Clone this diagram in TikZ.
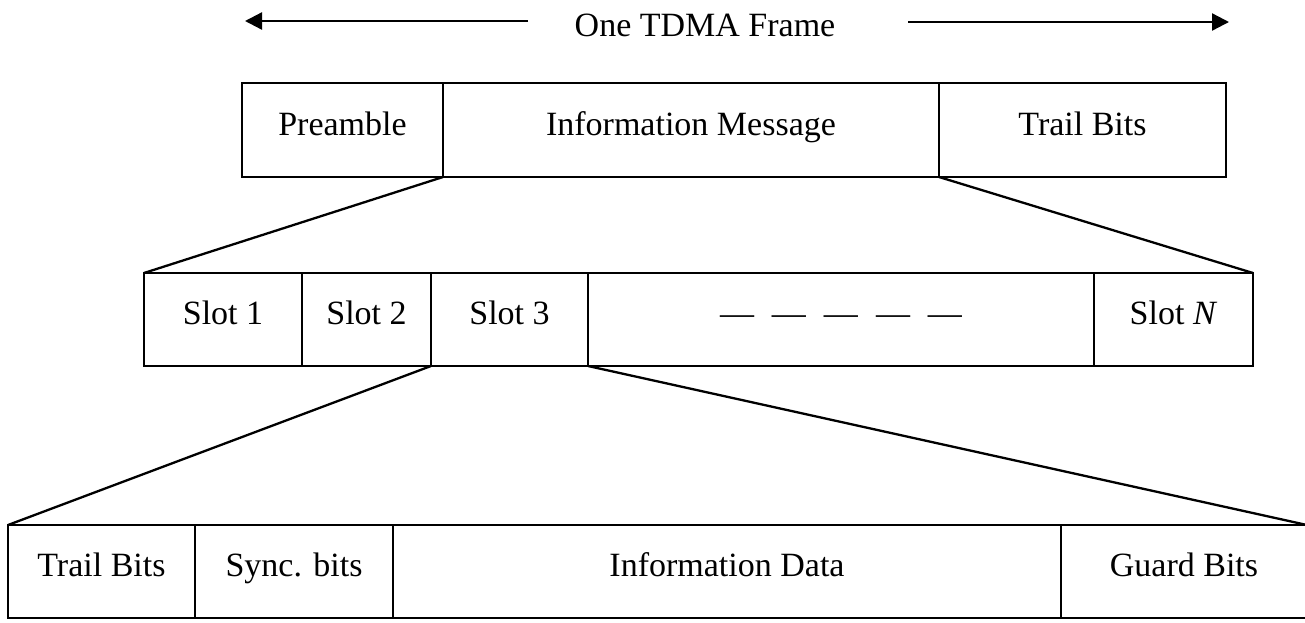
\documentclass[tikz,border=0pt]{standalone}
\usepackage{fontspec}
\setmainfont{Liberation Serif}
\usetikzlibrary{arrows.meta}
\begin{document}
\begin{tikzpicture}[x=1pt,y=-1pt,
  cell/.style={draw, line width=2.5pt, rectangle, inner sep=0pt, outer sep=0pt,
    anchor=north west, text height=23pt, text depth=13pt,
    font=\fontsize{34}{40}\selectfont},
  toprow/.style={cell, minimum height=94pt},
  midrow/.style={cell, minimum height=93pt},
  botrow/.style={cell, minimum height=93pt},
  link/.style={line width=2.3pt},
  arr/.style={line width=2.3pt, -{Triangle[length=17pt,width=17pt]}},
  lbl/.style={font=\fontsize{34}{40}\selectfont, inner sep=0pt}]
\useasboundingbox (0,0) rectangle (1305,622);

% title and arrows
\node[lbl] (title) at (705,25) {One TDMA Frame};
\coordinate (la) at (528,21);
\coordinate (lb) at (245,21);
\coordinate (ra) at (908,22);
\coordinate (rb) at (1229,22);
\draw[arr] (la) -- (lb);
\draw[arr] (ra) -- (rb);

% top row
\node[toprow, minimum width=201pt] (pre) at (242,83) {Preamble};
\node[toprow, minimum width=496pt] (info) at (443,83) {Information Message};
\node[toprow, minimum width=287pt] (trail) at (939,83) {Trail Bits};

% middle row
\node[midrow, minimum width=158pt] (s1) at (144,273) {Slot 1};
\node[midrow, minimum width=129pt] (s2) at (302,273) {Slot 2};
\node[midrow, minimum width=157pt] (s3) at (431,273) {Slot 3};
\node[midrow, minimum width=506pt] (dots) at (588,273)
  {\textemdash\hspace{18pt}\textemdash\hspace{18pt}\textemdash\hspace{18pt}\textemdash\hspace{18pt}\textemdash};
\node[midrow, minimum width=159pt] (sN) at (1094,273) {Slot \textit{N}};

% bottom row
\node[botrow, minimum width=187pt] (tb) at (8,525) {Trail Bits};
\node[botrow, minimum width=198pt] (sy) at (195,525) {Sync. bits};
\node[botrow, minimum width=668pt] (idat) at (393,525) {Information Data};
\node[botrow, minimum width=246pt] (gb) at (1061,525) {Guard Bits};

% expansion lines
\draw[link] (pre.south east) -- (s1.north west);
\draw[link] (trail.south west) -- (sN.north east);
\draw[link] (s3.south west) -- (tb.north west);
\draw[link] (s3.south east) -- (gb.north east);
\end{tikzpicture}
\end{document}
